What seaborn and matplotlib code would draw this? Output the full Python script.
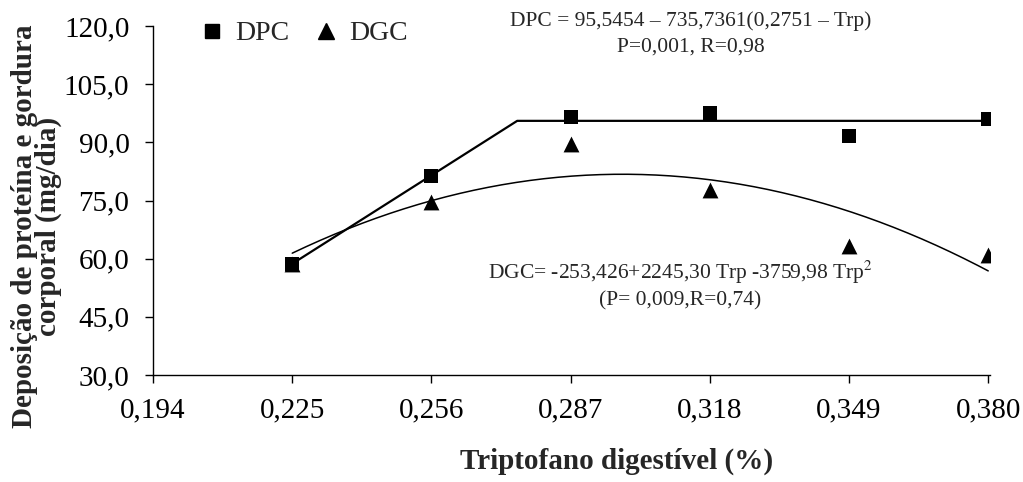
import numpy as np
import pandas as pd
import matplotlib
matplotlib.use("Agg")
import matplotlib.pyplot as plt
from matplotlib.ticker import FuncFormatter
from matplotlib.lines import Line2D
import seaborn as sns

# Data
trp = [0.225, 0.256, 0.287, 0.318, 0.349, 0.380]
dpc = [58.6, 81.4, 96.6, 97.6, 91.6, 96.0]
dgc = [58.7, 74.5, 89.6, 77.8, 63.3, 60.9]

# published regression coefficients (from the chart text)
dpc_plateau = 95.5454
dpc_slope = 735.7361
dpc_break = 0.2751
dgc_coef = [-253.426, 2245.30, -3759.98]

x_ticks = [0.194, 0.225, 0.256, 0.287, 0.318, 0.349, 0.380]
y_ticks = [30, 45, 60, 75, 90, 105, 120]

sns.set_style("ticks")
plt.rcParams['font.family'] = ['Liberation Serif', 'DejaVu Serif']
plt.rcParams['mathtext.fontset'] = 'stix'

fig = plt.figure(figsize=(10.23, 4.82), dpi=100)
ax = fig.add_axes([0.1496, 0.222, 0.8186, 0.724])

# fitted lines
xs_dpc = [trp[0], dpc_break, trp[-1]]
ys_dpc = [dpc_plateau - dpc_slope * (dpc_break - x) if x < dpc_break else dpc_plateau for x in xs_dpc]
sns.lineplot(x=xs_dpc, y=ys_dpc, color="black", linewidth=1.6, ax=ax)

xs_dgc = np.linspace(trp[0], trp[-1], 200)
ys_dgc = dgc_coef[0] + dgc_coef[1] * xs_dgc + dgc_coef[2] * xs_dgc ** 2
sns.lineplot(x=xs_dgc, y=ys_dgc, color="black", linewidth=1.1, ax=ax)

df = pd.DataFrame({"trp": trp * 2, "valor": dgc + dpc,
                   "serie": ["DGC"] * len(trp) + ["DPC"] * len(trp)})
sns.scatterplot(data=df[df.serie == "DGC"], x="trp", y="valor", marker="^", s=130,
                color="black", edgecolor="black", linewidth=0, ax=ax, zorder=3)
sns.scatterplot(data=df[df.serie == "DPC"], x="trp", y="valor", marker="s", s=115,
                color="black", edgecolor="black", linewidth=0, ax=ax, zorder=4)

ax.set_xlim(0.194, 0.3805)
ax.set_ylim(30, 120)
ax.set_xticks(x_ticks)
ax.set_yticks(y_ticks)
ax.xaxis.set_major_formatter(FuncFormatter(lambda v, p: f"{v:.3f}".replace(".", ",")))
ax.yaxis.set_major_formatter(FuncFormatter(lambda v, p: f"{v:.1f}".replace(".", ",")))
ax.tick_params(axis="both", labelsize=21, length=6, width=1, colors="black", direction="out")
ax.tick_params(axis="x", pad=10)
ax.tick_params(axis="y", pad=11)
for s in ["top", "right"]:
    ax.spines[s].set_visible(False)
for s in ["left", "bottom"]:
    ax.spines[s].set_linewidth(1)
    ax.spines[s].set_color("black")

ax.set_xlabel("Triptofano digestível (%)", fontsize=21, fontweight="bold")
ax.xaxis.set_label_coords(0.554, -0.207)
ax.set_ylabel("Deposição de proteína e gordura\ncorporal (mg/dia)", fontsize=21,
              fontweight="bold", linespacing=0.85)
ax.yaxis.set_label_coords(-0.109, 0.427)

# legend
handles = [Line2D([], [], marker="s", color="black", linestyle="none", markersize=10.5),
           Line2D([], [], marker="^", color="black", linestyle="none", markersize=11)]
ax.legend(handles, ["DPC", "DGC"], loc="upper left", bbox_to_anchor=(0.024, 1.086), ncol=2,
          frameon=False, fontsize=20, handletextpad=0.35, columnspacing=0.8, handlelength=1)

fig.text(0.675, 0.957, "DPC = 95,5454 – 735,7361(0,2751 – Trp)", ha="center", va="center", fontsize=15.5)
fig.text(0.675, 0.902, "P=0,001, R=0,98", ha="center", va="center", fontsize=15.5)
fig.text(0.665, 0.435, "DGC= -253,426+2245,30 Trp -3759,98 Trp$^2$", ha="center", va="center", fontsize=15.5)
fig.text(0.665, 0.375, "(P= 0,009,R=0,74)", ha="center", va="center", fontsize=15.5)

fig.savefig("out.png", dpi=100)
